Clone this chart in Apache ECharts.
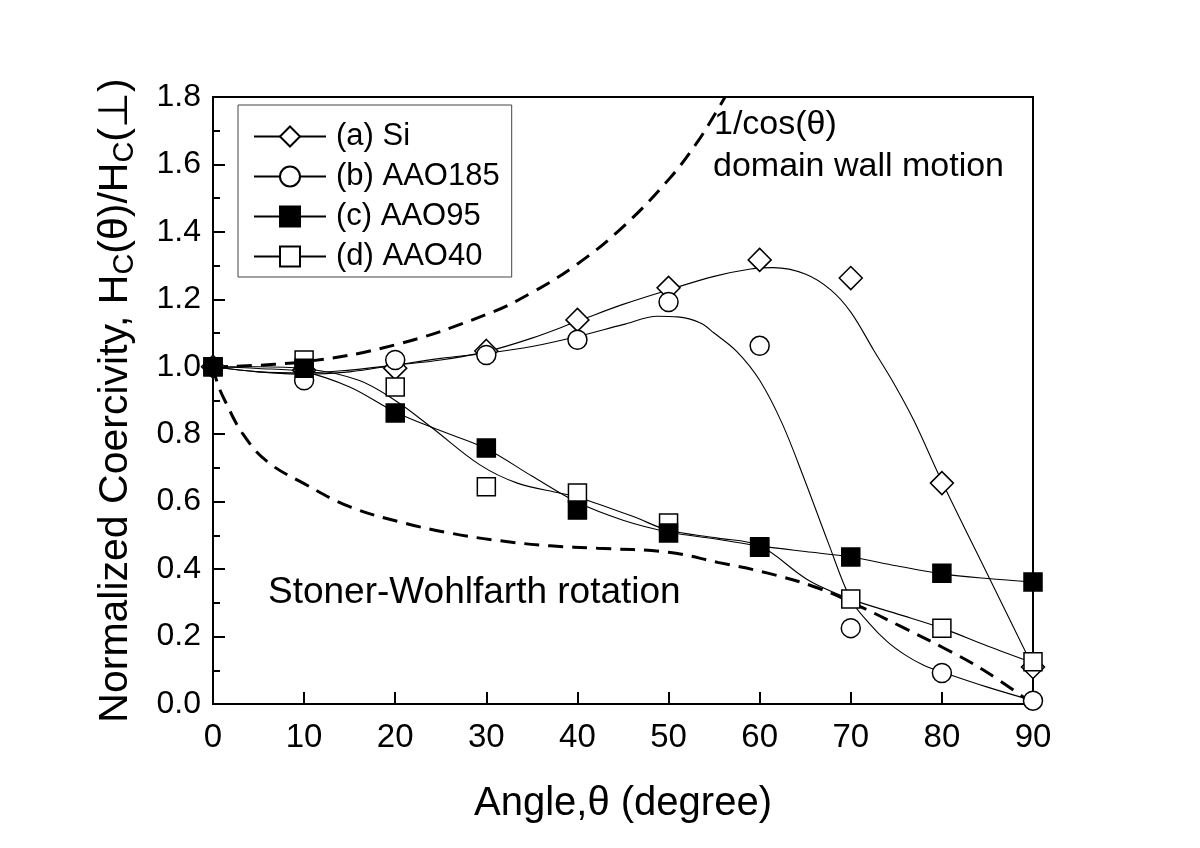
<!DOCTYPE html>
<html><head><meta charset="utf-8">
<script src="https://cdn.jsdelivr.net/npm/echarts@6/dist/echarts.min.js"></script>
<style>html,body{margin:0;padding:0;background:#fff}#c{width:1200px;height:848px}</style>
</head><body><div id="c"></div>
<script>
// ---- data ----
const angles = [0, 10, 20, 30, 40, 50, 60, 70, 80, 90];
const siVals     = [1.0, 0.99, 0.996, 1.047, 1.139, 1.234, 1.317, 1.263, 0.655, 0.11];
const aao185Vals = [1.0, 0.96, 1.02, 1.035, 1.08, 1.192, 1.062, 0.225, 0.092, 0.01];
const aao95Vals  = [1.0, 0.996, 0.863, 0.759, 0.575, 0.507, 0.465, 0.436, 0.388, 0.362];
const aao40Vals  = [1.0, 1.02, 0.94, 0.644, 0.626, 0.537, 0.466, 0.311, 0.225, 0.125];

// fitted guide curves
const siFit = [[0,1.0],[5,0.985],[10,0.982],[15,0.99],[20,1.005],[25,1.02],[30,1.045],[35,1.085],[40,1.135],[45,1.185],[50,1.228],[55,1.268],[59,1.29],[61.5,1.294],[65,1.275],[67.8,1.228],[70,1.162],[72.5,1.05],[74.7,0.952],[76.9,0.842],[80,0.66],[85,0.385],[90,0.11]];
const aao185Fit = [[0,1.0],[5,0.985],[10,0.978],[15,0.985],[20,1.005],[25,1.025],[30,1.04],[35,1.06],[40,1.09],[45,1.125],[48.8,1.15],[51,1.148],[53.5,1.13],[55,1.1],[57.5,1.045],[60,0.96],[62.5,0.83],[65,0.66],[67.5,0.48],[70,0.31],[72,0.24],[74,0.185],[76,0.145],[78,0.115],[80,0.095],[85,0.05],[90,0.01]];
const aao95Fit = [[0,1.0],[5,0.995],[10,0.985],[15,0.94],[20,0.866],[25,0.81],[30,0.757],[35,0.676],[40,0.598],[45,0.545],[50,0.51],[55,0.49],[60,0.469],[65,0.452],[70,0.436],[75,0.41],[80,0.386],[85,0.372],[90,0.362]];
const aao40Fit = [[0,1.0],[5,1.0],[10,0.995],[16,0.96],[20,0.9],[24,0.82],[29.3,0.709],[33.4,0.655],[38.1,0.625],[40,0.614],[46.2,0.555],[50,0.515],[55.4,0.492],[60,0.469],[65.3,0.368],[70,0.311],[75,0.268],[80,0.225],[85,0.172],[90,0.122]];

// model curves (dashed)
const wallMotion = [[0,1.0],[10,1.015],[20,1.065],[30,1.155],[35,1.22],[40,1.305],[45,1.415],[50,1.555],[53,1.66],[55,1.745],[56.2,1.8]];
const stonerW = [[0,1.0],[0.5,0.95],[1.3,0.9],[3.3,0.8],[5.9,0.72],[9.9,0.655],[15,0.585],[20.5,0.54],[26,0.507],[31.5,0.484],[37,0.469],[42.2,0.462],[50,0.45],[55.4,0.42],[60.9,0.388],[66.4,0.344],[71.1,0.288],[75.5,0.23],[80.2,0.166],[84.6,0.1],[90,0.0]];

const seriesNames = ['(a) Si', '(b) AAO185', '(c) AAO95', '(d) AAO40'];
const xTicks = [0, 90, 10];
const yTicks = [0, 1.8, 0.2];
// ----------------------------------------

const FONT = '"Liberation Sans", Arial, sans-serif';
const pair = v => angles.map((a, i) => [a, v[i]]);

const markerDefs = [
  {name: seriesNames[0], sym: 'diamond', size: 23, fill: '#fff', vals: siVals, fit: siFit},
  {name: seriesNames[1], sym: 'circle', size: 19, fill: '#fff', vals: aao185Vals, fit: aao185Fit},
  {name: seriesNames[3], sym: 'rect', size: 18, fill: '#fff', vals: aao40Vals, fit: aao40Fit},
  {name: seriesNames[2], sym: 'rect', size: 18, fill: '#000', vals: aao95Vals, fit: aao95Fit}
];

const series = [];
markerDefs.forEach(d => {
  series.push({
    name: d.name, type: 'line', data: d.fit, smooth: 0.35,
    showSymbol: false, symbol: d.sym, symbolSize: d.size,
    itemStyle: {color: d.fill, borderColor: '#000', borderWidth: 1.5},
    lineStyle: {color: '#000', width: 1.1},
    z: 2, silent: true, animation: false
  });
});
series.push({
  name: 'wall', type: 'line', data: wallMotion, smooth: 0.4, showSymbol: false, symbol: 'none',
  lineStyle: {color: '#000', width: 3, type: [15, 9]}, z: 1, silent: true, animation: false
});
series.push({
  name: 'sw', type: 'line', data: stonerW, smooth: 0.4, showSymbol: false, symbol: 'none',
  lineStyle: {color: '#000', width: 3, type: [15, 9]}, z: 1, silent: true, animation: false
});
markerDefs.forEach((d, k) => {
  series.push({
    name: d.name, type: 'scatter', data: pair(d.vals), symbol: d.sym, symbolSize: d.size,
    itemStyle: {color: d.fill, borderColor: '#000', borderWidth: 1.5, opacity: 1},
    z: 3 + k, silent: true, animation: false
  });
});

const chart = echarts.init(document.getElementById('c'), null, {renderer: 'canvas'});
chart.setOption({
  animation: false,
  backgroundColor: '#fff',
  grid: {left: 213, right: 167, top: 97, bottom: 144, show: true, borderColor: '#000', borderWidth: 2, backgroundColor: 'transparent'},
  legend: {
    data: seriesNames, orient: 'vertical', left: 238, top: 105,
    padding: [16, 12, 5, 15], itemGap: 9, itemWidth: 72, itemHeight: 25,
    borderColor: '#444', borderWidth: 1, backgroundColor: '#fff',
    textStyle: {fontSize: 31, fontFamily: FONT, color: '#000', padding: [0, 0, 0, 5]},
    selectedMode: false
  },
  xAxis: {
    type: 'value', min: xTicks[0], max: xTicks[1], interval: xTicks[2],
    name: 'Angle,θ (degree)', nameLocation: 'middle', nameGap: 80,
    nameTextStyle: {fontSize: 40, fontFamily: FONT, color: '#000'},
    axisLine: {lineStyle: {color: '#000', width: 2}},
    axisTick: {inside: true, length: 12, lineStyle: {color: '#000', width: 2}},
    axisLabel: {fontSize: 33, fontFamily: FONT, color: '#000', margin: 17},
    splitLine: {show: false}
  },
  yAxis: {
    type: 'value', min: yTicks[0], max: yTicks[1], interval: yTicks[2],
    name: 'Normalized Coercivity, H{sub|C}(θ)/H{sub|C}(⊥)', nameLocation: 'middle', nameGap: 74,
    nameTextStyle: {fontSize: 41, fontFamily: FONT, color: '#000',
      rich: {sub: {fontSize: 29, fontFamily: FONT, color: '#000', padding: [18, 0, 0, 0]}}},
    axisLine: {lineStyle: {color: '#000', width: 2}},
    axisTick: {inside: true, length: 12, lineStyle: {color: '#000', width: 2}},
    minorTick: {show: true, splitNumber: 2, length: 7, lineStyle: {color: '#000', width: 2}},
    axisLabel: {fontSize: 32, fontFamily: FONT, color: '#000', margin: 12, formatter: v => v.toFixed(1)},
    splitLine: {show: false}
  },
  graphic: [
    {type: 'text', x: 714, y: 125, z: 50, style: {text: '1/cos(θ)', font: '34px ' + FONT, fill: '#000', verticalAlign: 'middle'}},
    {type: 'text', x: 713, y: 167, z: 50, style: {text: 'domain wall motion', font: '34px ' + FONT, fill: '#000', verticalAlign: 'middle'}},
    {type: 'text', x: 268, y: 593, z: 50, style: {text: 'Stoner-Wohlfarth rotation', font: '37px ' + FONT, fill: '#000', verticalAlign: 'middle'}}
  ],
  series: series
});
</script></body></html>
